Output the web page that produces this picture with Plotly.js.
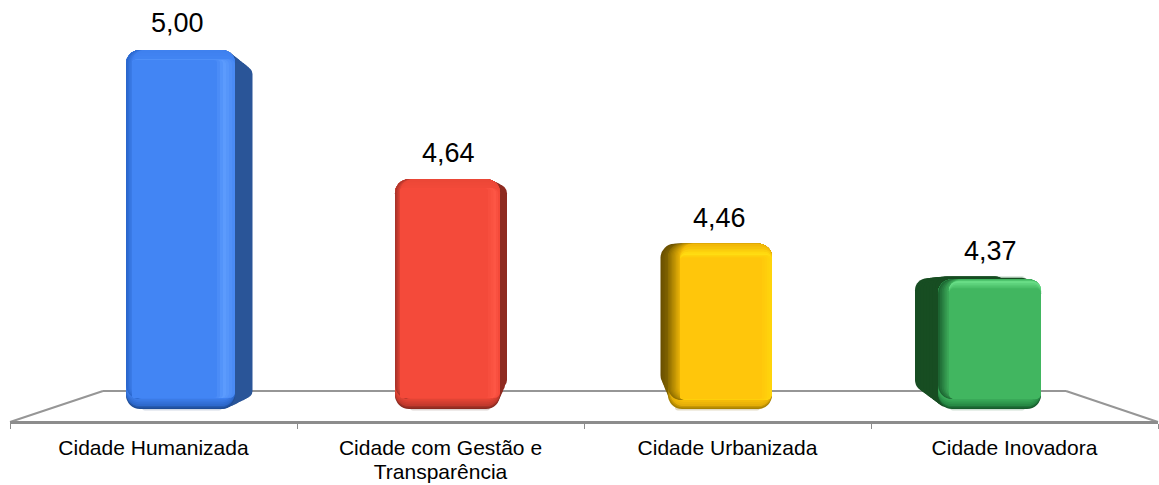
<!DOCTYPE html>
<html><head><meta charset="utf-8">
<script src="https://cdn.plot.ly/plotly-3.0.1.min.js"></script>
<style>html,body{margin:0;padding:0;background:#fff}#c{width:1159px;height:485px}</style>
</head><body><div id="c"></div>
<script>
const categories = ['Cidade Humanizada','Cidade com Gestão e<br>Transparência','Cidade Urbanizada','Cidade Inovadora'];
const values = [5.00,4.64,4.46,4.37];
const valueLabels = ['5,00','4,64','4,46','4,37'];
const axisFloor = 4;

// page geometry of the plot area
const W=1159,H=485,plotL=10,plotR=1158,plotT=0,plotB=421;
const topValuePx=50, floorPx=409;
const pxPerUnit=(floorPx-topValuePx)/(values[0]-axisFloor);
const yMax=values[0]+(topValuePx-plotT)/pxPerUnit;
const yMin=values[0]-(plotB-topValuePx)/pxPerUnit;
const catPx=(plotR-plotL)/categories.length;
const centre=i=>plotL+catPx*(i+0.5);

// Soft bevels are built from nested rounded bars; a ramp blends one layer style into another.
// Layer style: [left px, right px, top inset, bottom inset, colour, corner radius]
const hex=c=>[1,3,5].map(k=>parseInt(c.substr(k,2),16));
function ramp(a,b,n){
  const out=[],ca=hex(a[4]),cb=hex(b[4]);
  for(let k=0;k<n;k++){
    const f=n===1?1:k/(n-1),m=j=>a[j]+(b[j]-a[j])*f;
    const c=ca.map((v,j)=>Math.round(v+(cb[j]-v)*f));
    out.push([m(0),m(1),m(2),m(3),`rgb(${c.join(',')})`,m(5)]);
  }
  return out;
}
const blueLayers=[
 [142,222,0,-1.5,'#D3DAE6',3],
 ...ramp([130,236,0,0,'#2A5598',14],[130,252.5,17,11,'#2A5598',7],9),
 ...ramp([126,235,0,0,'#1E4C96',14],[126,235,0,3,'#2E69CC',14],3),
 ...ramp([126,235,0,3,'#2E69CC',14],[126,235,0,10,'#3F81EF',14],5),
 ...ramp([126,235,0,10,'#2A66CC',14],[132,235,0,10,'#3F81EF',13],5),
 ...ramp([132,235,0,10,'#3F81EF',13],[132,235,9,11,'#4285F4',6],4),
 ...ramp([132,235,9,11,'#4A8BF5',6],[132,226,10,11,'#5C9BFD',5],4),
 ...ramp([132,226,10,11,'#5C9BFD',5],[132,217,10,11,'#4285F4',3],4)
];
const redLayers=[
 [410,490,0,-1.5,'#DDD5D3',3],
 ...ramp([398,500,0,1,'#8E2A20',14],[398,507,5,20,'#8E2A20',9],5),
 ...ramp([395,500,0,0,'#8A2A20',14],[395,500,0,3,'#C23A2D',14],3),
 ...ramp([395,500,0,3,'#C23A2D',14],[395,500,0,10,'#EC4737',14],5),
 ...ramp([395,500,0,10,'#A8332A',14],[400,500,0,10,'#EC4737',13],5),
 ...ramp([400,500,0,10,'#EC4737',13],[400,500,9,11,'#F44A3A',6],4),
 ...ramp([400,500,9,11,'#F44A3A',6],[400,496,9,11,'#FD5645',5],3),
 ...ramp([400,496,9,11,'#FD5645',5],[400,488,9,11,'#F44A3A',3],4)
];
const yellowLayers=[
 [675,760,0,-1.5,'#E3DCC6',3],
 ...ramp([660.5,772,0,20,'#6A5000',14],[668,772,0,2,'#836500',14],6),
 ...ramp([668,772,0,0,'#A98200',14],[670,772,0,3,'#E5AE08',14],3),
 ...ramp([670,772,0,3,'#E5AE08',14],[672,772,0,9,'#FBC20A',13],4),
 ...ramp([668,772,0,9,'#8F6E00',13],[680,772,0,9,'#F2B908',13],10),
 ...ramp([680,772,0,9,'#F2B908',13],[680,772,8,9,'#FFD80F',8],4),
 ...ramp([680,772,8,9,'#FFD80F',8],[680,772,10,9,'#FFE014',7],2),
 ...ramp([680,772,11,9,'#FFD40C',6],[680,762,14,10,'#FFC60B',3],5)
];
const greenLayers=[
 [950,1025,0,-1.5,'#CFE0D4',3],
 ...ramp([915,1007,2,17,'#174D22',12],[935,1007,0,2,'#174D22',12],8),
 [935,1032,1.5,3,'#174D22',10],
 ...ramp([938,1041,3,0,'#175C2C',14],[938,1041,3,3,'#278A45',14],3),
 ...ramp([938,1041,3,3,'#278A45',14],[938,1041,3,10,'#3FB35E',14],5),
 ...ramp([938,1041,3,10,'#1C6431',14],[949,1041,3,10,'#41B660',12],7),
 ...ramp([949,1041,3,10,'#41B660',12],[949,1041,5,10,'#68DD86',9],3),
 ...ramp([949,1041,5,10,'#68DD86',9],[949,1041,12,10,'#41B660',5],5)
];
const barLayers=[blueLayers,redLayers,yellowLayers,greenLayers];
const labelPos=[[177,10],[448,9],[719,9],[990,8]];

const traces=[];
values.forEach((v,i)=>{
  barLayers[i].forEach(([l,r,t,b,color,rad])=>{
    const top=v-t/pxPerUnit, bot=axisFloor+b/pxPerUnit;
    traces.push({type:'bar',x:[categories[i]],base:[bot],y:[top-bot],offset:[(l-centre(i))/catPx],width:[(r-l)/catPx],
      marker:{color:color,cornerradius:rad,line:{width:0}},hoverinfo:'skip',showlegend:false});
  });
});

const px=x=>(x-plotL)/(plotR-plotL), py=y=>(plotB-y)/(plotB-plotT);
const floorColor='#969696';
const floorLine=(x0,y0,x1,y1)=>({type:'line',xref:'paper',yref:'paper',x0:px(x0),y0:py(y0),x1:px(x1),y1:py(y1),line:{color:floorColor,width:2},layer:'below'});

const layout={
  width:W,height:H,paper_bgcolor:'#fff',plot_bgcolor:'#fff',barmode:'overlay',hovermode:false,showlegend:false,
  margin:{l:plotL,r:W-plotR,t:plotT,b:H-plotB,pad:0},
  font:{family:'"Liberation Sans",Arial,sans-serif',color:'#000'},
  xaxis:{type:'category',categoryorder:'array',categoryarray:categories,range:[-0.5,3.5],fixedrange:true,tickson:'boundaries',ticks:'outside',ticklen:5,tickwidth:1,tickcolor:'#8c8c8c',
    showline:true,linecolor:'#8c8c8c',linewidth:3,showgrid:false,zeroline:false,tickfont:{size:21,color:'#000'},automargin:false,tickangle:0,ticklabelstandoff:6},
  yaxis:{visible:false,range:[yMin,yMax],fixedrange:true,showgrid:false,zeroline:false},
  shapes:[floorLine(10,422,103,391),floorLine(103,391,1066,391),floorLine(1066,391,1158,422)],
  annotations:values.map((v,i)=>({x:categories[i],y:v,xref:'x',yref:'y',text:valueLabels[i],showarrow:false,yanchor:'bottom',xanchor:'center',
    xshift:labelPos[i][0]-centre(i),yshift:labelPos[i][1],font:{size:27,color:'#000'}}))
};
Plotly.newPlot('c',traces,layout,{displayModeBar:false,staticPlot:true}).then(()=>{
  // the reference sets wrapped axis labels with tighter leading than Plotly's default
  document.querySelectorAll('#c .xtick tspan.line').forEach(t=>{ if(parseFloat(t.getAttribute('dy')||'0')>0) t.setAttribute('dy','24px'); });
});
</script></body></html>
